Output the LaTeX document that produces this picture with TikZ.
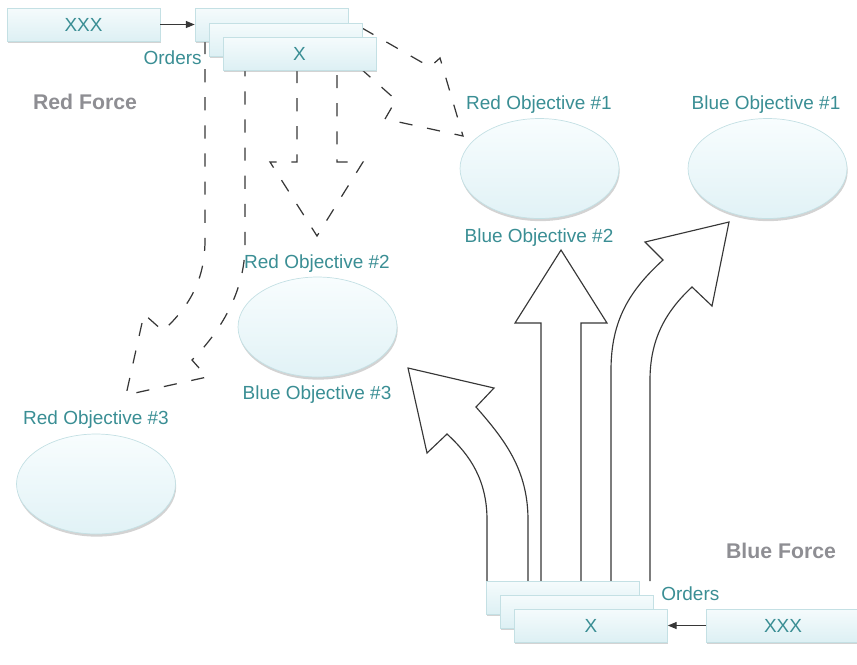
\documentclass[tikz,border=0pt]{standalone}
\usepackage{fontspec}
\setmainfont{Liberation Sans}
\usetikzlibrary{shapes.geometric,shadows,arrows.meta}

\definecolor{tealtext}{RGB}{58,142,148}
\definecolor{forcegray}{RGB}{142,142,147}
\definecolor{boxtop}{RGB}{245,251,252}
\definecolor{boxbot}{RGB}{221,240,244}
\definecolor{boxline}{RGB}{196,224,228}
\definecolor{ovaltop}{RGB}{248,253,254}
\definecolor{ovalbot}{RGB}{225,242,246}
\definecolor{arrowline}{RGB}{55,55,55}

\tikzset{
  order/.style={rectangle, draw=boxline, top color=boxtop, bottom color=boxbot,
    minimum width=3.06cm, minimum height=0.66cm, inner sep=0pt, text=tealtext,
    font=\fontsize{10.8}{13}\selectfont,
    drop shadow={shadow xshift=0.4pt, shadow yshift=-1.3pt, opacity=0.35}},
  objective/.style={ellipse, draw=boxline, top color=ovaltop, bottom color=ovalbot,
    minimum width=3.18cm, minimum height=2cm, inner sep=0pt,
    drop shadow={shadow xshift=0.4pt, shadow yshift=-1.5pt, opacity=0.35}},
  objtext/.style={text=tealtext, font=\fontsize{10.8}{13}\selectfont, inner sep=0pt},
  forcetext/.style={text=forcegray, font=\fontsize{12.1}{14}\selectfont\bfseries, inner sep=0pt},
  redmove/.style={draw=arrowline, line width=0.7pt, dash pattern=on 7.5pt off 8.5pt},
  bluemove/.style={draw=arrowline, line width=0.65pt, fill=white},
  orderlink/.style={draw=arrowline, line width=0.6pt, -{Triangle[length=5pt,width=4pt]}}
}

\begin{document}
\begin{tikzpicture}[x=0.02cm, y=-0.02cm]
\useasboundingbox (0,0) rectangle (857,664);

\draw[redmove] (362,28) -- (430,67) -- (440,58) -- (463,136) -- (385,119) -- (396,100) -- (360,68);
\draw[redmove] (297,70) -- (297,162) -- (270,162) -- (317,236) -- (363,162) -- (337,162) -- (337,70);
\draw[redmove] (205,41) -- (205,240) .. controls (205,285) and (185,310) .. (163,331) -- (144,314)
  -- (126,395) -- (207,377) -- (192,360) .. controls (220,332) and (245,292) .. (245,245) -- (245,70);

\draw[bluemove] (487,581) -- (487,520) .. controls (487,480) and (470,455) .. (447,434) -- (427,453)
  -- (408,368) -- (494,388) -- (476,407) .. controls (505,440) and (528,470) .. (528,520) -- (528,581);
\draw[bluemove] (541,581) -- (541,323) -- (515,323) -- (561,250) -- (607,323) -- (581,323) -- (581,581);
\draw[bluemove] (611,581) -- (611,370) .. controls (611,320) and (630,290) .. (663,260) -- (645,242)
  -- (729,222) -- (712,306) -- (692,287) .. controls (665,312) and (650,340) .. (650,380) -- (650,581);

\node[order] (rxxx) at (83.5,24.5) {XXX};
\node[order] (rord1) at (271.5,24.5) {};
\node[order] (rord2) at (285.5,39.5) {};
\node[order] (rord3) at (299.5,53.5) {X};
\draw[orderlink] (rxxx) -- (rord1);
\node[objtext, anchor=east] (rorders) at (202,58) {Orders};
\node[forcetext] (redforce) at (85,102) {Red Force};

\node[order] (bord1) at (562.5,597.5) {};
\node[order] (bord2) at (576.5,611.5) {};
\node[order] (bord3) at (591,625.5) {X};
\node[order] (bxxx) at (783,625.5) {XXX};
\draw[orderlink] (bxxx) -- (bord3);
\node[objtext, anchor=west] (borders) at (661,594) {Orders};
\node[forcetext] (blueforce) at (781,551) {Blue Force};

\node[objective] (obj1) at (539.5,168.5) {};
\node[objective] (obj2) at (767.5,168.5) {};
\node[objective] (obj3) at (317.5,327) {};
\node[objective] (obj4) at (96,484) {};

\node[objtext] (redobj1) at (539,105) {Red Objective \#1};
\node[objtext] (blueobj1) at (766,105) {Blue Objective \#1};
\node[objtext] (blueobj2) at (539,238) {Blue Objective \#2};
\node[objtext] (redobj2) at (317,264) {Red Objective \#2};
\node[objtext] (blueobj3) at (317,395) {Blue Objective \#3};
\node[objtext] (redobj3) at (96,420) {Red Objective \#3};
\end{tikzpicture}
\end{document}
